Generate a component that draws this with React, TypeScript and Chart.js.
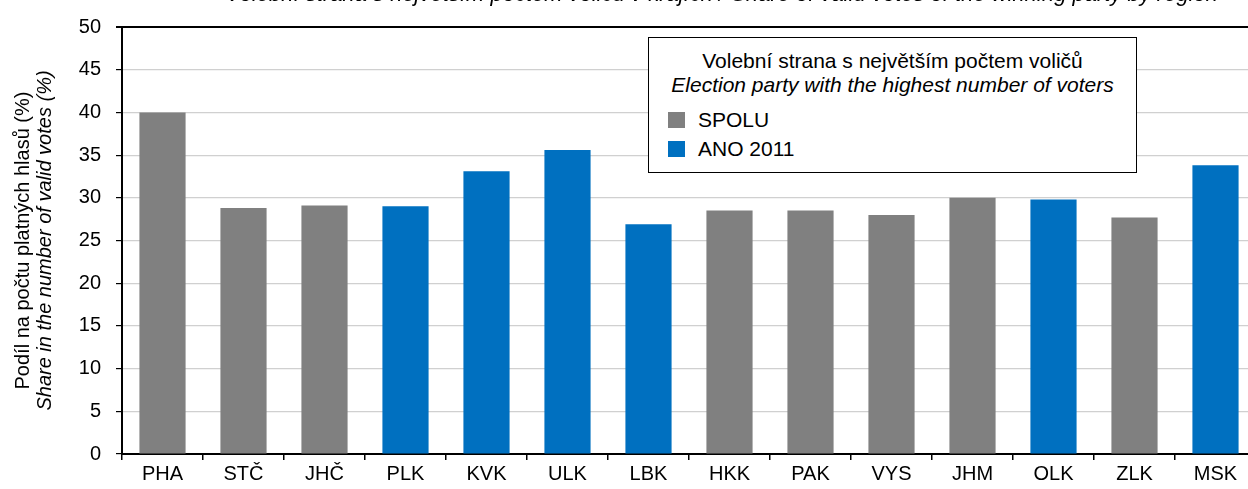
import React, { useEffect, useRef } from "react";
import { Chart, registerables } from "chart.js";

Chart.register(...registerables);

const regions = ["PHA", "STČ", "JHČ", "PLK", "KVK", "ULK", "LBK", "HKK", "PAK", "VYS", "JHM", "OLK", "ZLK", "MSK"];
const spoluValues = [40.0, 28.8, 29.1, null, null, null, null, 28.5, 28.5, 28.0, 30.0, null, 27.7, null];
const anoValues = [null, null, null, 29.0, 33.1, 35.6, 26.9, null, null, null, null, 29.8, null, 33.8];
const seriesNames = ["SPOLU", "ANO 2011"];
const seriesColors = ["#808080", "#0070C0"];
const yMin = 0;
const yMax = 50;
const yStep = 5;
const yTitleCz = "Podíl na počtu platných hlasů (%)";
const yTitleEn = "Share in the number of valid votes (%)";
const legendTitleCz = "Volební strana s největším počtem voličů";
const legendTitleEn = "Election party with the highest number of voters";
const chartTitle = "Volební strana s největším počtem voličů v krajích / Share of valid votes of the winning party by region";

const FONT = "'Liberation Sans', Arial, sans-serif";
const AXIS_SIZE = 20;
const LEGEND_SIZE = 21;

const yTitlePlugin = {
  id: "yTitlePlugin",
  afterDraw(chart: any) {
    const ctx = chart.ctx;
    const cy = (chart.chartArea.top + chart.chartArea.bottom) / 2;
    ctx.save();
    ctx.fillStyle = "#000";
    ctx.textAlign = "center";
    ctx.textBaseline = "middle";
    ctx.translate(23, cy);
    ctx.rotate(-Math.PI / 2);
    ctx.font = `${AXIS_SIZE}px ${FONT}`;
    ctx.fillText(yTitleCz, 0, 0);
    ctx.restore();
    ctx.save();
    ctx.fillStyle = "#000";
    ctx.textAlign = "center";
    ctx.textBaseline = "middle";
    ctx.translate(45, cy);
    ctx.rotate(-Math.PI / 2);
    ctx.font = `italic ${AXIS_SIZE}px ${FONT}`;
    ctx.fillText(yTitleEn, 0, 0);
    ctx.restore();
    // partially visible title at top
    ctx.save();
    ctx.fillStyle = "#000";
    ctx.textAlign = "right";
    ctx.textBaseline = "alphabetic";
    ctx.font = `italic 22px ${FONT}`;
    ctx.fillText(chartTitle, 1218, 1);
    ctx.restore();
  },
};

export default function App() {
  const canvasRef = useRef<HTMLCanvasElement | null>(null);

  useEffect(() => {
    const canvas = canvasRef.current;
    if (!canvas) return;
    const chart = new Chart(canvas, {
      type: "bar",
      data: {
        labels: regions,
        datasets: [
          {
            label: seriesNames[0],
            data: spoluValues as any,
            backgroundColor: seriesColors[0],
            grouped: false,
            categoryPercentage: 1,
            barPercentage: 0.57,
          },
          {
            label: seriesNames[1],
            data: anoValues as any,
            backgroundColor: seriesColors[1],
            grouped: false,
            categoryPercentage: 1,
            barPercentage: 0.57,
          },
        ],
      },
      options: {
        responsive: false,
        animation: false,
        devicePixelRatio: 1,
        layout: { padding: { left: 0, right: 4, top: 23, bottom: 0 } },
        plugins: {
          legend: { display: false },
          tooltip: { enabled: false },
          title: { display: false },
        },
        scales: {
          x: {
            offset: true,
            grid: {
              offset: true,
              drawOnChartArea: false,
              drawTicks: true,
              tickLength: 6,
              color: "#000",
              lineWidth: 1.5,
            },
            border: { display: true, color: "#000", width: 2 },
            ticks: {
              color: "#000",
              padding: 2,
              font: { family: FONT, size: AXIS_SIZE },
              maxRotation: 0,
              autoSkip: false,
            },
            afterFit: (scale: any) => {
              scale.height = 35;
            },
          },
          y: {
            min: yMin,
            max: yMax,
            ticks: {
              stepSize: yStep,
              color: "#000",
              padding: 15,
              font: { family: FONT, size: AXIS_SIZE },
            },
            grid: {
              drawTicks: true,
              tickLength: 6,
              tickColor: "#000",
              color: (ctx: any) => {
                const v = ctx.tick ? ctx.tick.value : null;
                if (v === yMax) return "#000";
                if (v === yMin) return "rgba(0,0,0,0)";
                return "#d0d0d0";
              },
              lineWidth: (ctx: any) => (ctx.tick && ctx.tick.value === yMax ? 2 : 1.2),
            },
            border: { display: true, color: "#000", width: 2 },
            afterFit: (scale: any) => {
              scale.width = 122;
            },
          },
        },
      },
      plugins: [yTitlePlugin],
    } as any);
    return () => chart.destroy();
  }, []);

  const textStyle: React.CSSProperties = {
    position: "absolute",
    fontFamily: FONT,
    fontSize: LEGEND_SIZE,
    color: "#000",
    whiteSpace: "nowrap",
    lineHeight: "24px",
  };

  return (
    <div
      style={{
        position: "fixed",
        left: 0,
        top: 0,
        width: 1248,
        height: 489,
        overflow: "hidden",
        background: "#fff",
      }}
    >
      <canvas ref={canvasRef} width={1260} height={489} style={{ display: "block" }} />
      <div
        style={{
          position: "absolute",
          left: 648,
          top: 37,
          width: 487,
          height: 134,
          border: "1.5px solid #000",
          background: "#fff",
        }}
      >
        <div style={{ ...textStyle, left: 0, width: 487, textAlign: "center", top: 11 }}>{legendTitleCz}</div>
        <div style={{ ...textStyle, left: 0, width: 487, textAlign: "center", top: 35, fontStyle: "italic" }}>
          {legendTitleEn}
        </div>
        <div style={{ position: "absolute", left: 19, top: 74, width: 17, height: 16, background: seriesColors[0] }} />
        <div style={{ ...textStyle, left: 49, top: 70 }}>{seriesNames[0]}</div>
        <div style={{ position: "absolute", left: 19, top: 103, width: 17, height: 16, background: seriesColors[1] }} />
        <div style={{ ...textStyle, left: 49, top: 99 }}>{seriesNames[1]}</div>
      </div>
    </div>
  );
}
